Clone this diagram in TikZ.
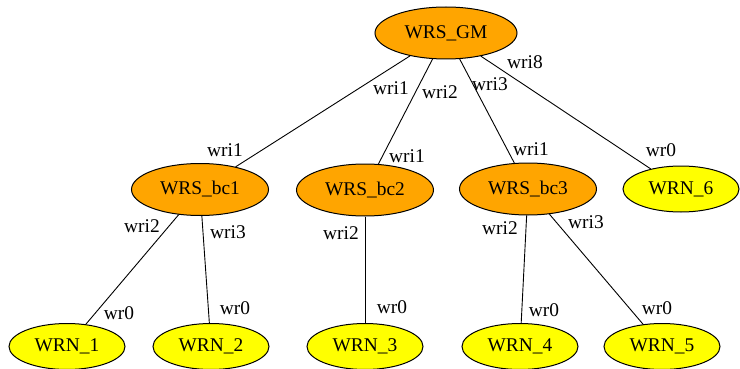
\documentclass[tikz,border=0pt]{standalone}
\usepackage{fontspec}
\setmainfont{Liberation Serif}
\usetikzlibrary{shapes.geometric}
\definecolor{swfill}{HTML}{FFA500}
\definecolor{ndfill}{HTML}{FFFF00}
\begin{document}
\begin{tikzpicture}[x=1pt,y=-1pt,
  every node/.style={font=\fontsize{19.4}{22}\selectfont},
  base/.style={ellipse,draw=black,line width=1pt,inner sep=0pt},
  switch/.style={base,fill=swfill,minimum width=137pt,minimum height=52pt},
  gm/.style={base,fill=swfill,minimum width=142pt,minimum height=52pt},
  leaf/.style={base,fill=ndfill,minimum width=116pt,minimum height=46pt},
  link/.style={draw=black,line width=0.9pt},
  port/.style={inner sep=0pt,anchor=center}]
\useasboundingbox (0,0) rectangle (740,369);

% switches
\node[gm] (gm) at (446,33) {WRS\_GM};
\node[switch] (bc1) at (200,189.5) {WRS\_bc1};
\node[switch] (bc2) at (365,190) {WRS\_bc2};
\node[switch] (bc3) at (528,189) {WRS\_bc3};

% end nodes
\node[leaf] (n6) at (681,189) {WRN\_6};
\node[leaf] (n1) at (67,346.5) {WRN\_1};
\node[leaf] (n2) at (211,346.5) {WRN\_2};
\node[leaf] (n3) at (365,346.5) {WRN\_3};
\node[leaf] (n4) at (520,346.5) {WRN\_4};
\node[leaf] (n5) at (662,346.5) {WRN\_5};

% links
\draw[link] (gm) -- (bc1);
\draw[link] (gm) -- (bc2);
\draw[link] (gm) -- (bc3);
\draw[link] (gm) -- (n6);
\draw[link] (bc1) -- (n1);
\draw[link] (bc1) -- (n2);
\draw[link] (bc2) -- (n3);
\draw[link] (bc3) -- (n4);
\draw[link] (bc3) -- (n5);

% port labels
\node[port] (p1) at (391,88) {wri1};
\node[port] (p2) at (440,92) {wri2};
\node[port] (p3) at (490,84) {wri3};
\node[port] (p4) at (525,62) {wri8};
\node[port] (p5) at (225,150) {wri1};
\node[port] (p6) at (407,156) {wri1};
\node[port] (p7) at (531,149) {wri1};
\node[port] (p8) at (661,150) {wr0};
\node[port] (p9) at (142,226) {wri2};
\node[port] (p10) at (228,232) {wri3};
\node[port] (p11) at (341,233) {wri2};
\node[port] (p12) at (500,228) {wri2};
\node[port] (p13) at (586,222) {wri3};
\node[port] (p14) at (119,313) {wr0};
\node[port] (p15) at (235,308) {wr0};
\node[port] (p16) at (392,307) {wr0};
\node[port] (p17) at (544,310) {wr0};
\node[port] (p18) at (657,308) {wr0};
\end{tikzpicture}
\end{document}
